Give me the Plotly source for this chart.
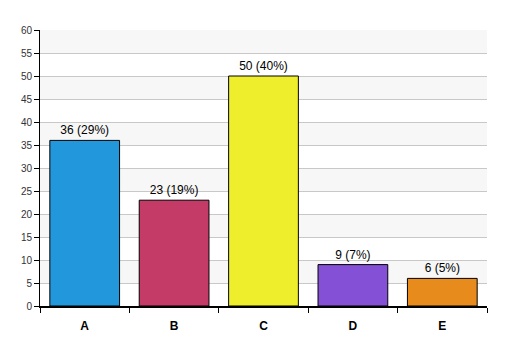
import plotly.graph_objects as go

categories = ["A", "B", "C", "D", "E"]
values = [36, 23, 50, 9, 6]
percents = [29, 19, 40, 7, 5]
colors = ["#2397DC", "#C43B68", "#EEEE2C", "#8450D6", "#E68B1C"]
y_ticks = list(range(0, 61, 5))

labels = [f"{v} ({p}%)" for v, p in zip(values, percents)]

fig = go.Figure()
fig.add_trace(go.Bar(
    x=categories, y=values, text=labels, textposition="outside",
    textfont=dict(family="Liberation Sans, Arial", size=12, color="#000000"),
    marker=dict(color=colors, line=dict(color="#000000", width=1)),
    width=0.78, cliponaxis=False,
))

# alternating background bands
shapes = []
for i in range(len(y_ticks) - 1):
    if (len(y_ticks) - 2 - i) % 2 == 0:
        shapes.append(dict(type="rect", xref="paper", yref="y", x0=0, x1=1,
                           y0=y_ticks[i], y1=y_ticks[i + 1], fillcolor="#F7F7F7",
                           line=dict(width=0), layer="below"))

fig.update_layout(
    width=507, height=356,
    margin=dict(l=32, r=28, t=22, b=58, autoexpand=False),
    paper_bgcolor="white", plot_bgcolor="white",
    showlegend=False, shapes=shapes,
    font=dict(family="Liberation Sans, Arial", size=10, color="#333333"),
    xaxis=dict(type="category", tickson="boundaries", ticks="outside", ticklen=5,
               tickcolor="#000000", showline=True, linecolor="#000000", linewidth=2,
               showgrid=False, ticklabelstandoff=8,
               tickfont=dict(family="Liberation Sans, Arial", size=12, color="#000000",
                             weight="bold")),
    yaxis=dict(range=[0, 60], tickvals=y_ticks, ticks="outside", ticklen=5,
               tickcolor="#000000", showline=True, linecolor="#000000", linewidth=1,
               gridcolor="#C8C8C8", gridwidth=1, zeroline=False,
               tickfont=dict(family="Liberation Sans, Arial", size=10, color="#333333")),
    bargap=0.22,
)

fig.write_html("out.html")
